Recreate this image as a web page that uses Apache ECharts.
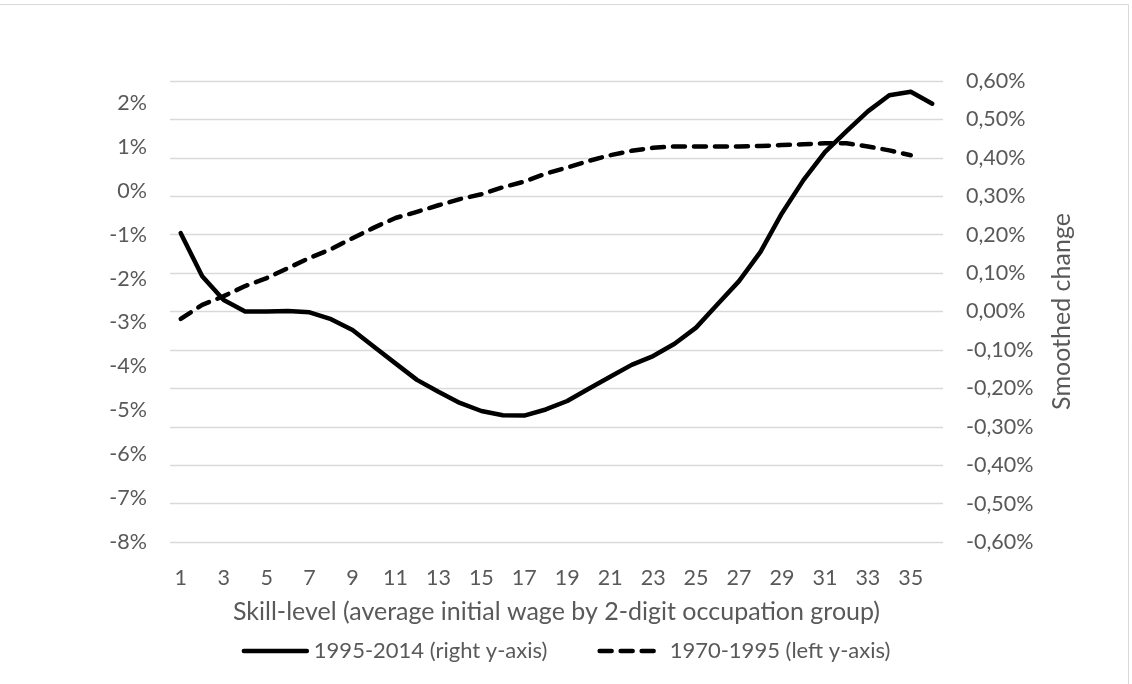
<!DOCTYPE html>
<html>
<head>
<meta charset="utf-8">
<script src="https://cdn.jsdelivr.net/npm/echarts@6/dist/echarts.min.js"></script>
<style>
  html, body { margin: 0; padding: 0; background: #fff; }
  #chart { width: 1132px; height: 684px; }
</style>
</head>
<body>
<div id="chart"></div>
<script>
// Categories: skill level 1..36
const categories = ['1','2','3','4','5','6','7','8','9','10','11','12','13','14','15','16','17','18',
                    '19','20','21','22','23','24','25','26','27','28','29','30','31','32','33','34','35','36'];

// 1995-2014, smoothed change (%), right y-axis
const series1995 = [0.204, 0.092, 0.030, 0.000, 0.000, 0.001, -0.002, -0.020, -0.048, -0.092,
                    -0.135, -0.178, -0.209, -0.238, -0.259, -0.270, -0.271, -0.255, -0.233, -0.201,
                    -0.170, -0.139, -0.116, -0.084, -0.042, 0.019, 0.079, 0.155, 0.256, 0.342,
                    0.415, 0.469, 0.521, 0.563, 0.572, 0.541];

// 1970-1995, smoothed change (%), left y-axis
const series1970 = [-2.92, -2.60, -2.40, -2.17, -1.99, -1.76, -1.53, -1.33, -1.08, -0.84,
                    -0.62, -0.48, -0.33, -0.19, -0.08, 0.08, 0.21, 0.39, 0.53, 0.68,
                    0.81, 0.91, 0.98, 1.01, 1.01, 1.01, 1.01, 1.02, 1.04, 1.06,
                    1.08, 1.08, 1.01, 0.92, 0.81, null];

// Tick settings
const leftTicks = { min: -8, max: 2.5, interval: 1 };
const rightTicks = { min: -0.6, max: 0.6, interval: 0.1 };

const seriesNames = ['1995-2014 (right y-axis)', '1970-1995 (left y-axis)'];
const xTitle = 'Skill-level (average initial wage by 2-digit occupation group)';
const rightTitle = 'Smoothed change';

const FONT = 'Lato';
const TXT = '#595959';

const chart = echarts.init(document.getElementById('chart'), null, { renderer: 'canvas' });
chart.setOption({
  animation: false,
  backgroundColor: '#fff',
  textStyle: { fontFamily: FONT, color: TXT },
  graphic: [{
    type: 'rect',
    shape: { x: -2, y: 4.5, width: 1130.5, height: 690 },
    style: { fill: 'none', stroke: '#d9d9d9', lineWidth: 1 },
    silent: true
  }],
  grid: { left: 170, right: 189, top: 81, bottom: 142, containLabel: false },
  legend: {
    top: 635,
    left: 'center',
    itemWidth: 63,
    itemHeight: 14,
    itemGap: 50,
    itemStyle: { opacity: 0 },
    lineStyle: { width: 4.5, cap: 'round' },
    textStyle: { fontFamily: FONT, fontSize: 22, color: TXT, padding: [0, 0, 0, 2] },
    data: seriesNames
  },
  xAxis: {
    type: 'category',
    data: categories,
    boundaryGap: true,
    axisLine: { show: false },
    axisTick: { show: false },
    axisLabel: { interval: 1, fontFamily: FONT, fontSize: 21.5, color: TXT, margin: 25 },
    name: xTitle,
    nameLocation: 'middle',
    nameGap: 57,
    nameTextStyle: { fontFamily: FONT, fontSize: 25, color: TXT }
  },
  yAxis: [{
    type: 'value',
    position: 'left',
    min: leftTicks.min,
    max: leftTicks.max,
    interval: leftTicks.interval,
    axisLine: { show: false },
    axisTick: { show: false },
    splitLine: { show: false },
    axisLabel: {
      fontFamily: FONT, fontSize: 21.5, color: TXT, margin: 23,
      formatter: v => (Math.abs(v - Math.round(v)) > 1e-6) ? '' : Math.round(v) + '%'
    }
  }, {
    type: 'value',
    position: 'right',
    min: rightTicks.min,
    max: rightTicks.max,
    interval: rightTicks.interval,
    axisLine: { show: false },
    axisTick: { show: false },
    splitLine: { show: true, lineStyle: { color: '#d9d9d9', width: 1.3 } },
    axisLabel: {
      fontFamily: FONT, fontSize: 21.5, color: TXT, margin: 23,
      formatter: v => { const r = Math.round(v * 100) / 100; return (r === 0 ? 0 : r).toFixed(2).replace('.', ',') + '%'; }
    },
    name: rightTitle,
    nameLocation: 'middle',
    nameRotate: 90,
    nameGap: 106,
    nameTextStyle: { fontFamily: FONT, fontSize: 25, color: TXT }
  }],
  series: [{
    name: seriesNames[0],
    type: 'line',
    yAxisIndex: 1,
    data: series1995,
    symbol: 'none',
    smooth: false,
    lineStyle: { color: '#000', width: 4.5, cap: 'round', join: 'round' },
    itemStyle: { color: '#000' }
  }, {
    name: seriesNames[1],
    type: 'line',
    yAxisIndex: 0,
    data: series1970,
    symbol: 'none',
    smooth: false,
    connectNulls: false,
    lineStyle: { color: '#000', width: 4.5, type: [12, 9], cap: 'round', join: 'round' },
    itemStyle: { color: '#000' }
  }]
});
</script>
</body>
</html>
